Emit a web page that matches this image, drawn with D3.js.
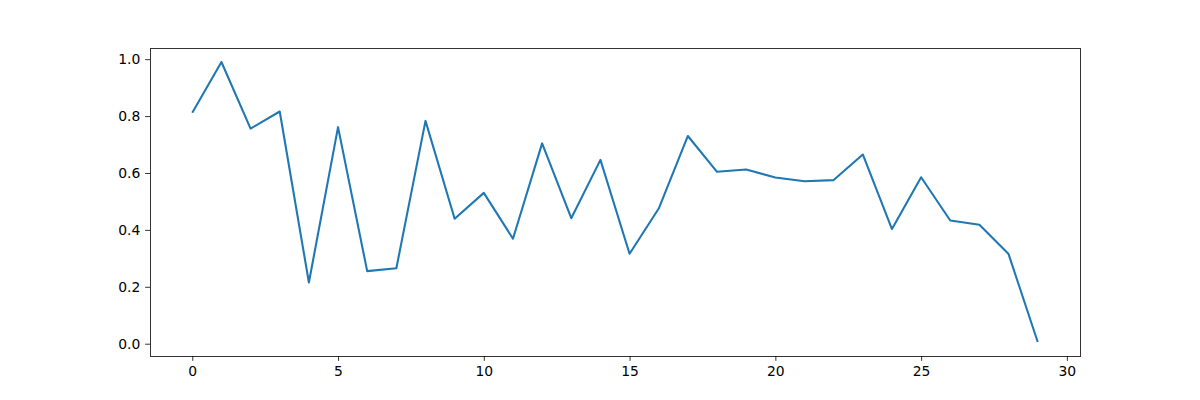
<!DOCTYPE html>
<html>
<head>
<meta charset="utf-8">
<script src="https://cdn.jsdelivr.net/npm/d3@7"></script>
<style>
  html, body { margin: 0; padding: 0; background: #fff; }
  svg { display: block; }
  text { font-family: "DejaVu Sans", sans-serif; }
</style>
</head>
<body>
<svg id="chart" width="1200" height="400"></svg>
<script>
const xValues = d3.range(0, 30);
const yValues = [0.812, 0.990, 0.756, 0.816, 0.215, 0.761, 0.255, 0.265, 0.783, 0.439,
                 0.530, 0.369, 0.704, 0.441, 0.646, 0.316, 0.475, 0.730, 0.604, 0.612,
                 0.584, 0.571, 0.575, 0.665, 0.403, 0.585, 0.433, 0.418, 0.315, 0.006];
const xTicks = [0, 5, 10, 15, 20, 25, 30];
const yTicks = [0.0, 0.2, 0.4, 0.6, 0.8, 1.0];

(function () {
const mLeft = 150, mRight = 1080, mTop = 48, mBottom = 356;

const svg = d3.select("#chart");

const xMin = d3.min(xValues), xMax = d3.max(xValues);
const xPad = (xMax - xMin) * 0.05;
const yMin = d3.min(yValues), yMax = d3.max(yValues);
const yPad = (yMax - yMin) * 0.05;

const x = d3.scaleLinear().domain([xMin - xPad, xMax + xPad]).range([mLeft, mRight]);
const y = d3.scaleLinear().domain([yMin - yPad, yMax + yPad]).range([mBottom, mTop]);

const line = d3.line().x((d, i) => x(xValues[i])).y(d => y(d));

svg.append("path")
  .datum(yValues)
  .attr("d", line)
  .attr("fill", "none")
  .attr("stroke", "#1f77b4")
  .attr("stroke-width", 2.08)
  .attr("stroke-linejoin", "round")
  .attr("stroke-linecap", "butt");

const fontSize = "13.9px";

const xAxis = d3.axisBottom(x).tickValues(xTicks).tickFormat(d3.format("d"))
  .tickSize(4.86).tickPadding(4.86);
const gx = svg.append("g").attr("transform", `translate(0,${mBottom})`).call(xAxis);

const yAxis = d3.axisLeft(y).tickValues(yTicks).tickFormat(d3.format(".1f"))
  .tickSize(4.86).tickPadding(4.86);
const gy = svg.append("g").attr("transform", `translate(${mLeft},0)`).call(yAxis);

[gx, gy].forEach(g => {
  g.select(".domain").remove();
  g.selectAll(".tick line").attr("stroke", "#000").attr("stroke-width", 0.8);
  g.selectAll(".tick text").attr("fill", "#000").style("font-size", fontSize)
    .style("font-family", "'DejaVu Sans', sans-serif");
});

svg.append("rect")
  .attr("x", mLeft).attr("y", mTop)
  .attr("width", mRight - mLeft).attr("height", mBottom - mTop)
  .attr("fill", "none").attr("stroke", "#000").attr("stroke-width", 0.8)
  .attr("shape-rendering", "crispEdges");
})();
</script>
</body>
</html>
